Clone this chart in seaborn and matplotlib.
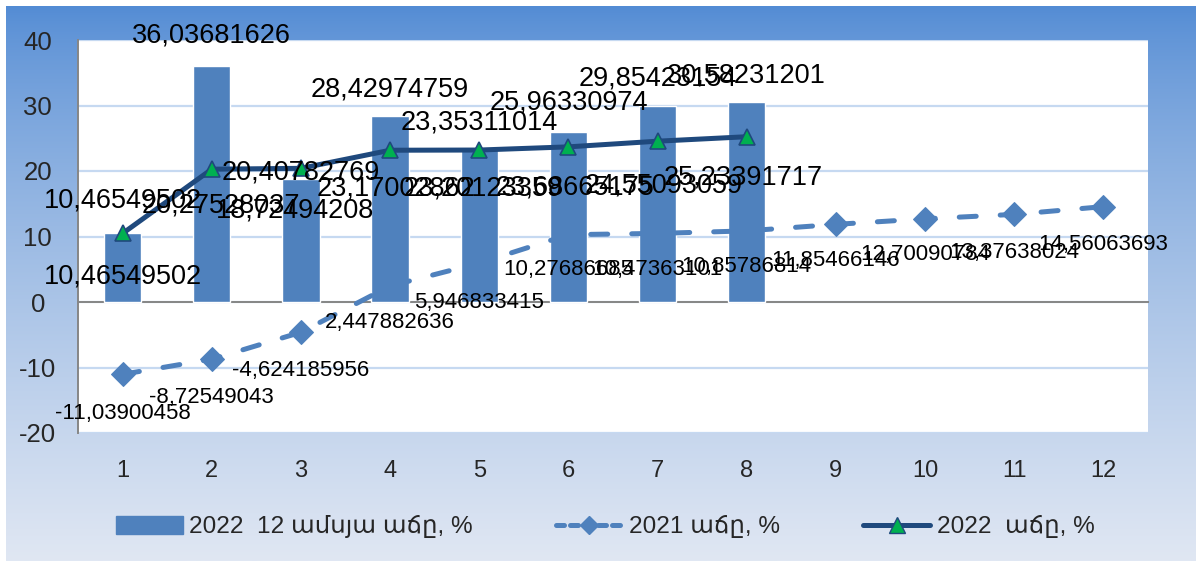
import numpy as np
import pandas as pd
import matplotlib
matplotlib.use("Agg")
import matplotlib.pyplot as plt
from matplotlib.patches import Patch
from matplotlib.lines import Line2D
import seaborn as sns

# ---------------- data ----------------
months = [1, 2, 3, 4, 5, 6, 7, 8, 9, 10, 11, 12]
month_labels = ["1", "2", "3", "4", "5", "6", "7", "8", "9", "10", "11", "12"]
bar_months = [1, 2, 3, 4, 5, 6, 7, 8]
growth_12m_2022 = [10.46549502, 36.03681626, 18.72494208, 28.42974759,
                   23.35311014, 25.96330974, 29.85423154, 30.58231201]
growth_2021 = [-11.03900458, -8.72549043, -4.624185956, 2.447882636,
               5.946833415, 10.27686685, 10.47363101, 10.85786814,
               11.85466146, 12.70090784, 13.37638024, 14.56063693]
line_months_2022 = [1, 2, 3, 4, 5, 6, 7, 8]
growth_2022 = [10.46549502, 20.27528037, 20.40782769, 23.17002862,
               23.20123359, 23.68665175, 24.55093059, 25.23391717]
legend_labels = ["2022  12 ամսյա աճը, %", "2021 աճը, %", "2022  աճը, %"]
y_ticks = [-20, -10, 0, 10, 20, 30, 40]

# label offsets in pixels (dx, dy up)
bar_lbl_off = [(0, -43), (0, 30), (-6, -31), (0, 26), (0, 27), (0, 29), (0, 28), (0, 26)]
l22_lbl_off = [(0, 33), (9, -36), (0, -4), (6, -38), (4, -38), (7, -41), (6, -44), (-4, -41)]
l21_lbl_off = [(0, -39), (0, -38), (0, -38), (0, -37), (0, -39), (0, -35),
               (0, -36), (0, -36), (0, -36), (0, -36), (0, -38), (0, -38)]

BAR_C = "#4f81bd"
L21_C = "#4f81bd"
L22_C = "#1f497d"
TRI_C = "#00b050"

sns.set_style("white")
FAM = ["Liberation Sans", "DejaVu Sans"]
plt.rcParams["font.family"] = FAM

W, H = 1196, 561
fig = plt.figure(figsize=(W / 100, H / 100), dpi=100)
fig.patch.set_facecolor("white")

# gradient background
bg = fig.add_axes([6 / W, 0, 1 - 6 / W, 1 - 6 / H])
t = np.linspace(0, 1, 400) ** 0.75
top = np.array([82, 139, 212]) / 255
bot = np.array([224, 231, 243]) / 255
grad = top[None, :] * (1 - t[:, None]) + bot[None, :] * t[:, None]
bg.imshow(grad[:, None, :], aspect="auto", extent=[0, 1, 0, 1], origin="upper")
bg.set_axis_off()
bg.set_zorder(-10)

# plot area
ax = fig.add_axes([78 / W, 1 - 433 / H, (1148 - 78) / W, (433 - 40) / H])
ax.set_facecolor("white")

df_bar = pd.DataFrame({"month": bar_months, "value": growth_12m_2022})
sns.barplot(data=df_bar, x="month", y="value", native_scale=True, width=0.42,
            color=BAR_C, saturation=1, errorbar=None, ax=ax, zorder=2)

df21 = pd.DataFrame({"month": months, "value": growth_2021})
sns.lineplot(data=df21, x="month", y="value", ax=ax, color=L21_C, lw=3.6,
             linestyle=(0, (3.4, 4.8)), dash_capstyle="round",
             marker="D", markersize=12, markerfacecolor=L21_C,
             markeredgecolor=L21_C, zorder=3)

df22 = pd.DataFrame({"month": line_months_2022, "value": growth_2022})
sns.lineplot(data=df22, x="month", y="value", ax=ax, color=L22_C, lw=3.6,
             marker="^", markersize=12, markerfacecolor=TRI_C,
             markeredgecolor=L22_C, markeredgewidth=1.2, zorder=4)

ax.set_xlim(0.5, 12.5)
ax.set_ylim(-20, 40)
ax.set_xlabel("")
ax.set_ylabel("")

# grid
ax.set_yticks(y_ticks)
ax.yaxis.grid(True, color="#c6d9f1", lw=1.6, zorder=0)
ax.xaxis.grid(False)
ax.set_axisbelow(True)

# spines
for s in ["top", "right"]:
    ax.spines[s].set_visible(False)
ax.spines["left"].set_color("#868686")
ax.spines["left"].set_linewidth(1.4)
ax.spines["bottom"].set_position(("data", 0))
ax.spines["bottom"].set_color("#868686")
ax.spines["bottom"].set_linewidth(1.4)
ax.spines["bottom"].set_zorder(1)

ax.set_xticks(months)
ax.set_xticklabels(month_labels)
ax.set_xticks(np.arange(0.5, 13, 1.0), minor=True)
ax.tick_params(axis="x", which="major", length=0, pad=114, labelsize=17)
ax.tick_params(axis="x", which="minor", length=7, width=1.4, color="#868686", direction="out")
ax.tick_params(axis="y", which="major", length=7, width=1.4, color="#868686",
               direction="out", pad=22, labelsize=18.5)
ax.set_yticklabels([str(v) for v in y_ticks])
for lbl in ax.get_yticklabels():
    lbl.set_ha("center")
for lbl in ax.get_xticklabels() + ax.get_yticklabels():
    lbl.set_family(FAM)

# data labels
def fmt(v):
    return f"{v:.10g}".replace(".", ",")

PX = 0.72
for x, v, (dx, dy) in zip(bar_months, growth_12m_2022, bar_lbl_off):
    ax.annotate(fmt(v), (x, v), xytext=(dx * PX, dy * PX), textcoords="offset points",
                ha="center", va="center", fontsize=19.5, color="black", zorder=6,
                annotation_clip=False)
for x, v, (dx, dy) in zip(line_months_2022, growth_2022, l22_lbl_off):
    ax.annotate(fmt(v), (x, v), xytext=(dx * PX, dy * PX), textcoords="offset points",
                ha="center", va="center", fontsize=19.5, color="black", zorder=6,
                annotation_clip=False)
for x, v, (dx, dy) in zip(months, growth_2021, l21_lbl_off):
    ax.annotate(fmt(v), (x, v), xytext=(dx * PX, dy * PX), textcoords="offset points",
                ha="center", va="center", fontsize=16, color="black", zorder=6,
                annotation_clip=False)

# legend
handles = [
    Patch(facecolor=BAR_C, edgecolor=BAR_C),
    Line2D([], [], color=L21_C, lw=3.6, linestyle=(0, (1.6, 1.2)), dash_capstyle="round",
           marker="D", markersize=9, markerfacecolor=L21_C, markeredgecolor=L21_C),
    Line2D([], [], color=L22_C, lw=3.6, marker="^", markersize=12,
           markerfacecolor=TRI_C, markeredgecolor=L22_C),
]
leg = fig.legend(handles, legend_labels, loc="center", bbox_to_anchor=(605 / W, 1 - 527 / H),
                 ncol=3, frameon=False, fontsize=17.6, handlelength=2.75, handleheight=0.8,
                 handletextpad=0.25, columnspacing=3.4)
for txt in leg.get_texts():
    txt.set_family(FAM)

fig.savefig("out.png", dpi=100)
